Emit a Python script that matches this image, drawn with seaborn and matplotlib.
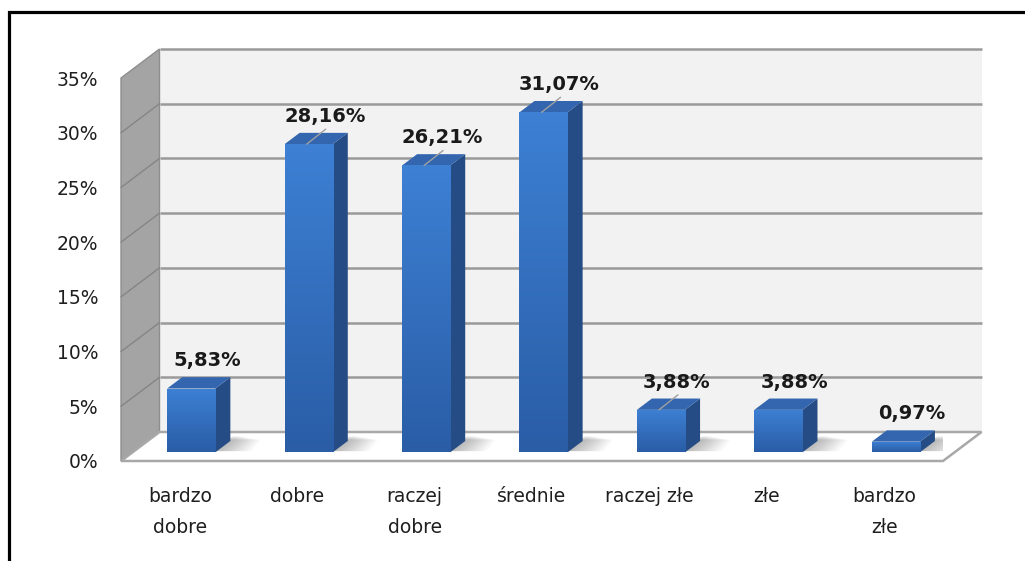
import numpy as np
import matplotlib
matplotlib.use("Agg")
import matplotlib.pyplot as plt
from matplotlib.patches import Polygon, Rectangle
from matplotlib.colors import LinearSegmentedColormap
import seaborn as sns

# data
categories = ["bardzo\ndobre", "dobre", "raczej\ndobre", "średnie", "raczej złe", "złe", "bardzo\nzłe"]
values = [5.83, 28.16, 26.21, 31.07, 3.88, 3.88, 0.97]
value_labels = ["5,83%", "28,16%", "26,21%", "31,07%", "3,88%", "3,88%", "0,97%"]
has_leader = [False, True, True, True, True, False, False]
y_ticks = [0, 5, 10, 15, 20, 25, 30, 35]
y_tick_labels = ["0%", "5%", "10%", "15%", "20%", "25%", "30%", "35%"]

W, H = 1025, 561
sns.set_theme(style="white")
plt.rcParams["font.family"] = ["DejaVu Sans"]

fig = plt.figure(figsize=(W / 100, H / 100), dpi=100)
fig.patch.set_facecolor("white")

# front plane of the 3d box, in pixels
left_px, right_px, floor_px, top_px = 121, 943, 461, 78
ax = fig.add_axes([left_px / W, (H - floor_px) / H,
                   (right_px - left_px) / W, (floor_px - top_px) / H])

n = len(categories)
ymax = 35
px_x = (right_px - left_px) / n
px_y = (floor_px - top_px) / ymax
DX, DY = 38.5, 29  # depth of the box in pixels


def proj(x, y, d):
    # move a point d (0 = front, 1 = back) into the depth of the box
    return x + d * DX / px_x, y + d * DY / px_y


# front faces of the bars first, so the container holds only them
bar_w = 0.41
sns.barplot(x=categories, y=values, ax=ax, color="#3470c2", saturation=1,
            width=bar_w, errorbar=None, zorder=4)
bars = list(ax.containers[0])

# walls and floor
back = Polygon([proj(-0.5, 0, 1), proj(n - 0.5, 0, 1), proj(n - 0.5, ymax, 1), proj(-0.5, ymax, 1)],
               closed=True, fc="#f2f2f2", ec="none", zorder=0, clip_on=False)
ax.add_patch(back)
for v in y_ticks[1:]:
    (x0, y0), (x1, y1) = proj(-0.5, v, 1), proj(n - 0.5, v, 1)
    ax.plot([x0, x1], [y0, y1], color="#9a9a9a", lw=1.8, zorder=0.5, clip_on=False, solid_capstyle="butt")

side = Polygon([proj(-0.5, 0, 0), proj(-0.5, 0, 1), proj(-0.5, ymax, 1), proj(-0.5, ymax, 0)],
               closed=True, fc="#a4a4a4", ec="#8e8e8e", lw=1, zorder=1, clip_on=False)
ax.add_patch(side)
for v in y_ticks[1:-1]:
    (x0, y0), (x1, y1) = proj(-0.5, v, 0), proj(-0.5, v, 1)
    ax.plot([x0, x1], [y0, y1], color="#858585", lw=1, zorder=1.2, clip_on=False)

floor = Polygon([proj(-0.5, 0, 0), proj(n - 0.5, 0, 0), proj(n - 0.5, 0, 1), proj(-0.5, 0, 1)],
                closed=True, fc="white", ec="#a8a8a8", lw=1.8, zorder=1.5, clip_on=False)
ax.add_patch(floor)

d0, dd = 0.3, 0.39  # bar front depth and bar thickness
grad_cmap = LinearSegmentedColormap.from_list("bar", ["#2a5da6", "#3d80d4"])
grad = np.linspace(0, 1, 100).reshape(-1, 1)

for p, v, txt, lead in zip(bars, values, value_labels, has_leader):
    x0, w = p.get_x(), p.get_width()
    fx, fy = proj(x0, 0, d0)
    p.set_x(fx)
    p.set_y(fy)
    p.set_edgecolor("none")

    # soft shadow on the floor, stacked thin layers
    for k in range(1, 13):
        s = 3 * k / px_x
        e = 0.04 + 0.012 * (12 - k)
        sh = Polygon([(fx + w - 4 / px_x, fy + 0.1), (fx + w + s, fy + 0.1),
                      proj(fx + w + s * 0.8, fy, dd + e), proj(fx + w - 4 / px_x, fy, dd + e)],
                     closed=True, fc="black", alpha=0.022, ec="none", zorder=2)
        ax.add_patch(sh)

    im = ax.imshow(grad, extent=[fx, fx + w, fy, fy + v], origin="lower", aspect="auto",
                   cmap=grad_cmap, zorder=4.5, interpolation="bilinear")
    im.set_clip_path(p)

    right = Polygon([(fx + w, fy), (fx + w, fy + v), proj(fx + w, fy + v, dd), proj(fx + w, fy, dd)],
                    closed=True, fc="#254c84", ec="none", zorder=4)
    top = Polygon([(fx, fy + v), (fx + w, fy + v), proj(fx + w, fy + v, dd), proj(fx, fy + v, dd)],
                  closed=True, fc="#3366ae", ec="none", zorder=4)
    ax.add_patch(right)
    ax.add_patch(top)

    if lead:
        lx, ly = fx + w / 2 - 2 / px_x, fy + v
        ax.plot([lx, lx + 19 / px_x], [ly, ly + 15 / px_y], color="#a0a0a0", lw=1, zorder=6)

    ax.annotate(txt, xy=proj(fx + w / 2, fy + v, dd), xytext=(1, 16.5), textcoords="offset pixels",
                ha="center", va="center", fontsize=14, fontweight="bold", color="#1a1a1a", zorder=7)

ax.set_xlim(-0.5, n - 0.5)
ax.set_ylim(0, ymax)
ax.patch.set_visible(False)
for s in ax.spines.values():
    s.set_visible(False)

ax.set_yticks(y_ticks, y_tick_labels)
ax.set_xticks(range(n), categories)
ax.set_xlabel("")
ax.set_ylabel("")
ax.tick_params(axis="y", length=0, pad=16.5, labelsize=13.5, labelcolor="#1f1f1f")
ax.tick_params(axis="x", length=0, pad=19, labelsize=13.5, labelcolor="#1f1f1f")
for lbl in ax.get_xticklabels():
    lbl.set_linespacing(1.75)

# outer frame
fig.add_artist(Rectangle((8.5 / W, -0.2), 1.1, (H - 11.5) / H + 0.2, transform=fig.transFigure,
                         fill=False, ec="black", lw=2.3))

fig.savefig("out.png", dpi=100)
